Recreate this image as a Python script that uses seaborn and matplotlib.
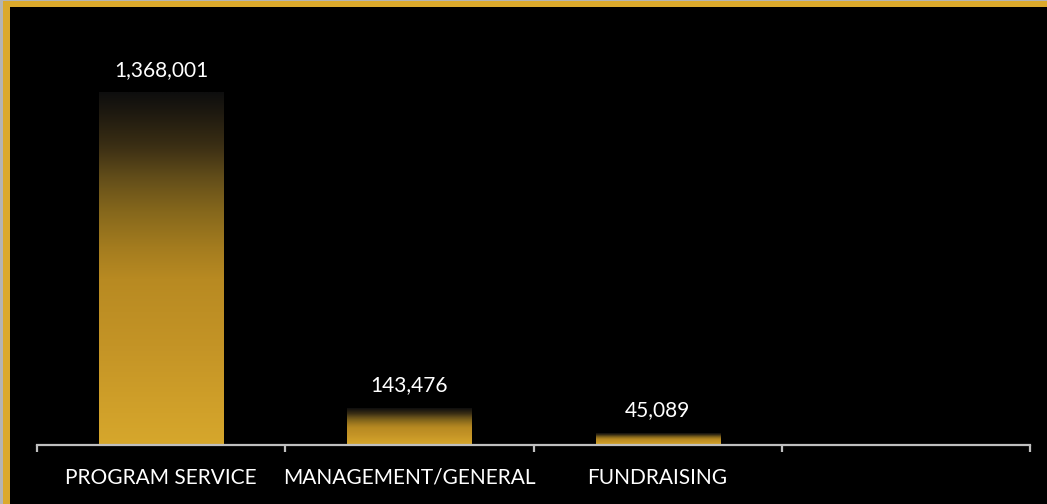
import numpy as np
import pandas as pd
import matplotlib
matplotlib.use("Agg")
import matplotlib.pyplot as plt
import seaborn as sns
from matplotlib.colors import LinearSegmentedColormap
from matplotlib.patches import Rectangle

categories = ["PROGRAM SERVICE", "MANAGEMENT/GENERAL", "FUNDRAISING", ""]
values = [1368001, 143476, 45089, 0]
value_labels = ["1,368,001", "143,476", "45,089", ""]

sns.set_style("dark")
plt.rcParams["font.family"] = ["Lato", "DejaVu Sans"]

W, H = 1047, 504
fig = plt.figure(figsize=(W / 100, H / 100), dpi=100, facecolor="black")
ax = fig.add_axes([37 / W, 59 / H, (1030 - 37) / W, (445 - 20.4) / H])
ax.set_facecolor("black")

df = pd.DataFrame({"cat": categories, "val": values})
sns.barplot(data=df, x="cat", y="val", order=categories, width=0.5,
            color="#D6A72C", ax=ax, errorbar=None, saturation=1)

gold_grad = LinearSegmentedColormap.from_list("goldgrad", [
    (0.00, "#0e0e0e"), (0.06, "#1f1a10"), (0.15, "#3a2e14"), (0.25, "#66501a"),
    (0.34, "#86681c"), (0.44, "#a47c1f"), (0.53, "#b88a22"), (0.72, "#c49426"),
    (0.91, "#d1a12a"), (1.00, "#d6a72c")])
grad = np.linspace(0, 1, 256).reshape(-1, 1)

ax.set_xlim(-0.5, len(categories) - 0.5)
ax.set_ylim(0, 1650000)

for patch, lab in zip(ax.patches, value_labels):
    x0, y0 = patch.get_x(), patch.get_y()
    w, h = patch.get_width(), patch.get_height()
    if h <= 0:
        patch.set_visible(False)
        continue
    patch.set_facecolor("none")
    patch.set_edgecolor("none")
    ax.imshow(grad, cmap=gold_grad, aspect="auto", origin="upper",
              extent=(x0, x0 + w, y0, y0 + h), zorder=2, interpolation="bilinear")
    ax.annotate(lab, (x0 + w / 2, y0 + h), xytext=(0, 12.2), textcoords="offset points",
                ha="center", va="baseline", color="white", fontsize=15)

ax.set_xlim(-0.5, len(categories) - 0.5)
ax.set_ylim(0, 1650000)
ax.set_xlabel("")
ax.set_ylabel("")
ax.set_yticks([])
ax.grid(False)
for s in ["top", "right", "left"]:
    ax.spines[s].set_visible(False)
ax.spines["bottom"].set_visible(True)
ax.spines["bottom"].set_color("#BFBFBF")
ax.spines["bottom"].set_linewidth(1.6)
ax.spines["bottom"].set_zorder(3)

ax.set_xticks(range(len(categories)))
ax.set_xticklabels(categories, color="white", fontsize=15)
ax.tick_params(axis="x", which="major", bottom=True, length=0, pad=16.5)
ax.set_xticks(np.arange(-0.5, len(categories), 1.0), minor=True)
ax.tick_params(axis="x", which="minor", bottom=True, length=5, width=1.6,
               color="#BFBFBF", direction="out")

# frame border
fig.patches.append(Rectangle((0, 1 - 1.3 / H), 1, 1.3 / H, transform=fig.transFigure,
                             facecolor="#B4B4B4", edgecolor="none", zorder=0))
fig.patches.append(Rectangle((0, 0), 3 / W, 1, transform=fig.transFigure,
                             facecolor="#B4B4B4", edgecolor="none", zorder=0))
fig.patches.append(Rectangle((3 / W, 1 - 7 / H), 1 - 3 / W, 5.7 / H, transform=fig.transFigure,
                             facecolor="#DBA92C", edgecolor="none", zorder=0))
fig.patches.append(Rectangle((3 / W, 0), 7 / W, 1 - 1.3 / H, transform=fig.transFigure,
                             facecolor="#DBA92C", edgecolor="none", zorder=0))

fig.savefig("out.png", dpi=100, facecolor="black")
